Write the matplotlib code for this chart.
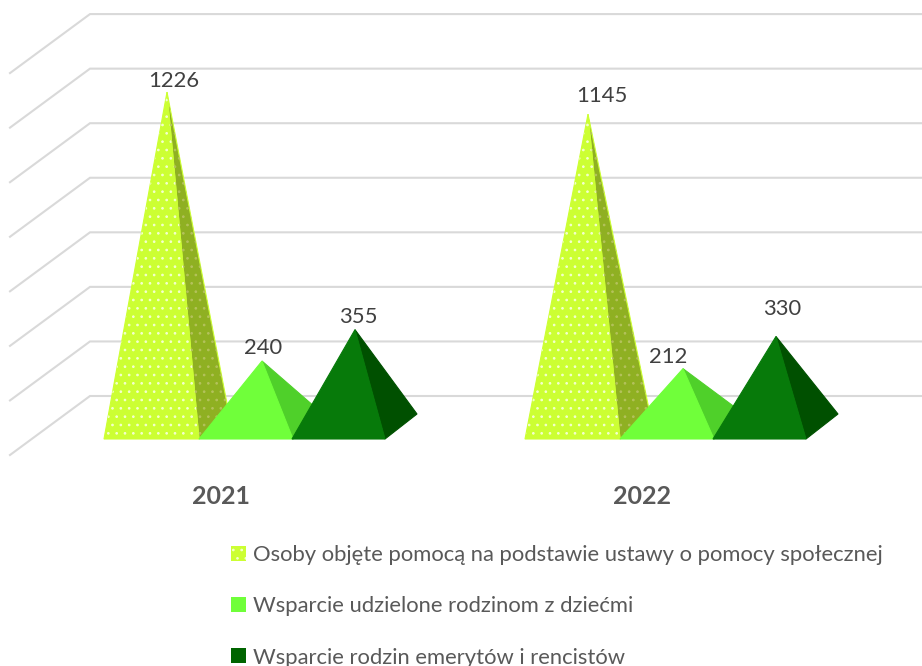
import matplotlib
matplotlib.use("Agg")
import matplotlib.pyplot as plt
from matplotlib.patches import Polygon, Patch

plt.rcParams['font.family'] = ['Lato', 'DejaVu Sans']
plt.rcParams['hatch.linewidth'] = 0.7

years = ['2021', '2022']
series = ['Osoby objęte pomocą na podstawie ustawy o pomocy społecznej',
          'Wsparcie udzielone rodzinom z dziećmi',
          'Wsparcie rodzin emerytów i rencistów']
values = [[1226, 240, 355],
          [1145, 212, 330]]
grid_values = [0, 200, 400, 600, 800, 1000, 1200, 1400]

front_colors = ['#CCFF33', '#70FF3A', '#077A0A']
side_colors = ['#8FB022', '#4FD02A', '#005000']

# pixels per unit, the x axis is simply in pixels
px_per_unit = 0.2728
base_y_px = 426.5
fig_w, fig_h = 922, 666

# layout of the fake 3d
group_left = [104, 525]
series_left = [0, 95, 188]
widths = [95, 94, 93]
apex_dx = [63, 63, 63]
back_dx = [30, 30, 32]
floor_half = 12.5 / px_per_unit   # half the floor depth in value units
wall_offset = 30.5 / px_per_unit  # back wall zero sits above the pyramid centre
depth_dx = -80
depth_dv = -59 / px_per_unit

# label offsets from apex, (x px, value units)
label_dx = [[7, 1, 3], [14, -15, 6]]
label_dv = [[42, 48, 48], [66, 44, 100]]

fig = plt.figure(figsize=(fig_w / 100, fig_h / 100), dpi=100)
ax = fig.add_axes([0, 0, 1, 1])
ax.set_xlim(0, fig_w)
ax.set_ylim(-(fig_h - base_y_px) / px_per_unit, base_y_px / px_per_unit)
ax.axis('off')

for g in grid_values:
    v = g + wall_offset
    ax.plot([90 + depth_dx, 90, 922], [v + depth_dv, v, v], color='#D9D9D9', lw=1.5, zorder=1,
            solid_joinstyle='miter')

for i in range(len(years)):
    for j in range(len(series)):
        left = group_left[i] + series_left[j]
        right = left + widths[j]
        apex = (left + apex_dx[j], values[i][j])
        front = [(left, -floor_half), (right, -floor_half), apex]
        side = [(right, -floor_half), (right + back_dx[j], floor_half), apex]
        ax.add_patch(Polygon(side, closed=True, facecolor=side_colors[j],
                             edgecolor=front_colors[j] if j == 0 else side_colors[j],
                             lw=0.8, zorder=2 + j))
        ax.add_patch(Polygon(front, closed=True, facecolor=front_colors[j],
                             edgecolor=front_colors[j], lw=0.8, zorder=2 + j))
        if j == 0:
            ax.add_patch(Polygon(side, closed=True, facecolor='none', edgecolor='#B4C25C',
                                 hatch='..', lw=0, zorder=2.1))
            ax.add_patch(Polygon(front, closed=True, facecolor='none', edgecolor='#F4FFD0',
                                 hatch='..', lw=0, zorder=2.2))
        ax.text(apex[0] + label_dx[i][j], values[i][j] + label_dv[i][j], str(values[i][j]),
                ha='center', va='center', fontsize=15.8, color='#404040', zorder=6)
    ax.text(group_left[i] + 117, -(497 - base_y_px) / px_per_unit, years[i], ha='center',
            va='center', fontsize=18, fontweight='bold', color='#595959')

handles = [Patch(facecolor=front_colors[0], edgecolor='#F4FFD0', hatch='..', lw=0),
           Patch(facecolor=front_colors[1], lw=0),
           Patch(facecolor='#006400', lw=0)]
leg = ax.legend(handles, series, loc='upper left', bbox_to_anchor=(231 / fig_w, 1 - 545 / fig_h),
                frameon=False, fontsize=15.85, labelcolor='#595959', handlelength=0.66,
                handleheight=0.66, handletextpad=0.32, labelspacing=1.42,
                borderpad=0, borderaxespad=0)

fig.savefig('out.png', dpi=100)
